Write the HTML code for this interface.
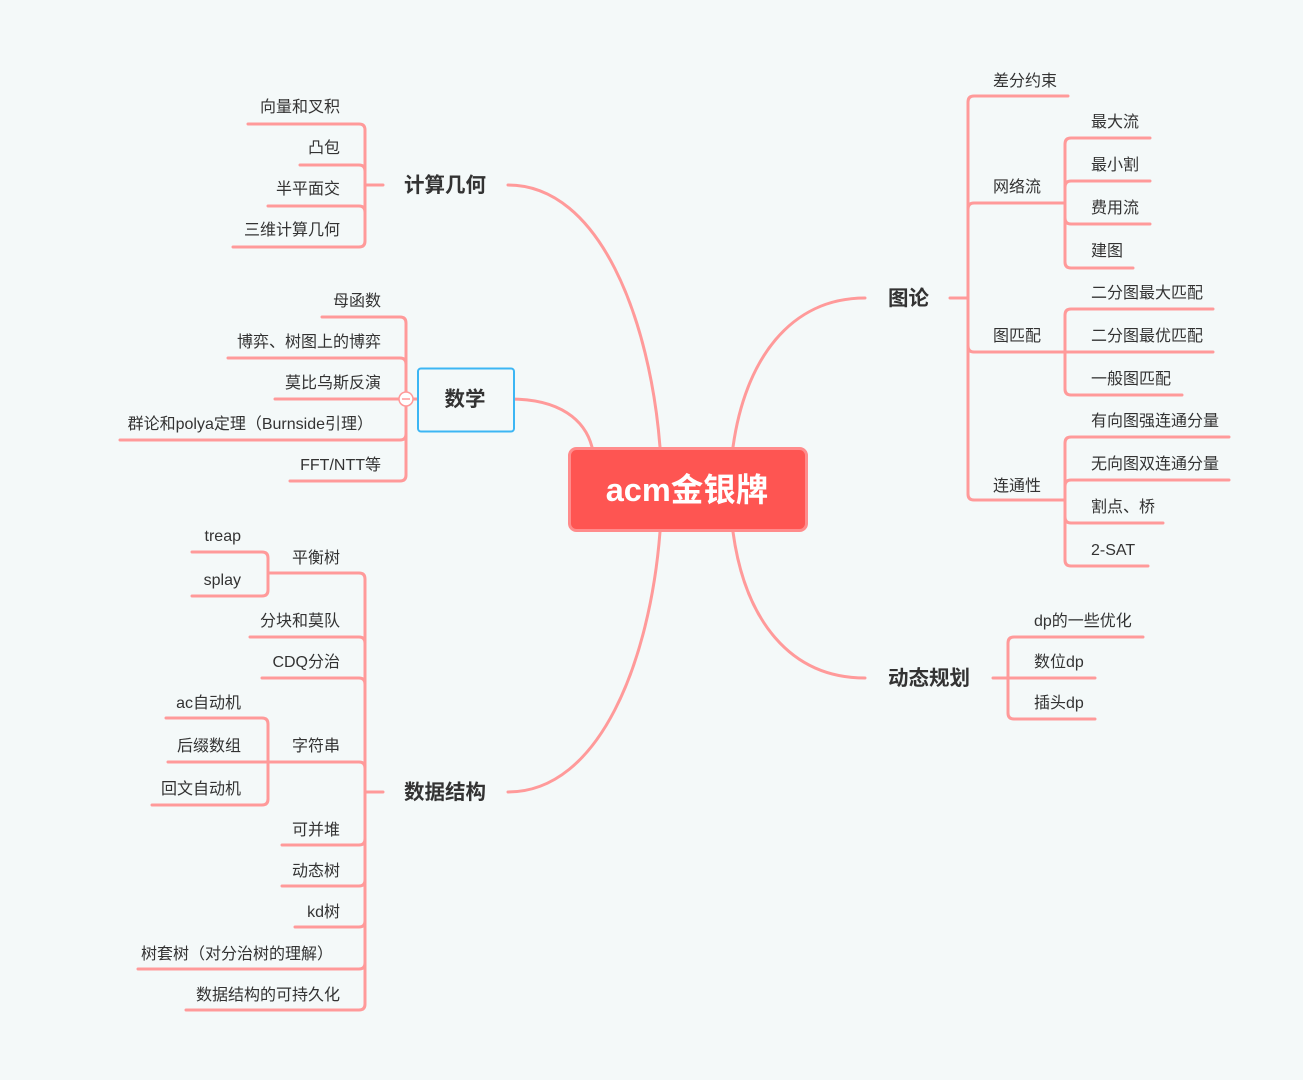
<!DOCTYPE html>
<html><head><meta charset="utf-8"><style>
html,body{margin:0;padding:0;background:#f4f9f9;}
svg{display:block;}
text{font-family:"Liberation Sans","Noto Sans CJK SC",sans-serif;fill:#333;font-size:16px;}
.b{font-weight:bold;font-size:20.5px;fill:#333;}
</style></head><body>
<svg width="1303" height="1080" viewBox="0 0 1303 1080" xmlns="http://www.w3.org/2000/svg">
<rect width="1303" height="1080" fill="#f4f9f9"/>
<g fill="none" stroke="#ff9a9a" stroke-width="3" stroke-linecap="round">
<path d="M508,185 C600,185 650,320 660,447"/>
<path d="M510,399 C560,399 585,420 592,447"/>
<path d="M508,792 C600,792 650,660 660,532"/>
<path d="M865,298 C790,298 745,360 733,447"/>
<path d="M865,678 C790,678 745,620 733,532"/>

<path d="M248,124 H359 Q365,124 365,130 V241 Q365,247 359,247 H233"/>
<path d="M300,165 H359 Q365,165 365,171"/>
<path d="M268,206 H359 Q365,206 365,212"/>
<line x1="365" y1="185" x2="383" y2="185"/>

<path d="M322,317 H400 Q406,317 406,323 V475 Q406,481 400,481 H290"/>
<path d="M228,358 H400 Q406,358 406,364"/>
<line x1="275" y1="399" x2="417" y2="399"/>
<path d="M120,440 H400 Q406,440 406,434"/>

<path d="M268,573 H359 Q365,573 365,579 V1004 Q365,1010 359,1010 H186"/>
<path d="M192,552 H262 Q268,552 268,558 V590 Q268,596 262,596 H192"/>
<path d="M250,637 H359 Q365,637 365,643"/>
<path d="M262,678 H359 Q365,678 365,684"/>
<path d="M166,718 H262 Q268,718 268,724 V799 Q268,805 262,805 H152"/>
<path d="M168,762 H359 Q365,762 365,768"/>
<path d="M282,845 H359 Q365,845 365,839"/>
<path d="M282,886 H359 Q365,886 365,880"/>
<path d="M295,927 H359 Q365,927 365,921"/>
<path d="M138,969 H359 Q365,969 365,963"/>
<line x1="365" y1="792" x2="383" y2="792"/>

<path d="M1068,96 H974 Q968,96 968,102 V494 Q968,500 974,500 H1065"/>
<line x1="950" y1="298" x2="968" y2="298"/>
<path d="M968,209 Q968,203 974,203 H1065"/>
<path d="M1150,138 H1071 Q1065,138 1065,144 V262 Q1065,268 1071,268 H1133"/>
<path d="M1150,181 H1071 Q1065,181 1065,187"/>
<path d="M1150,224 H1071 Q1065,224 1065,218"/>
<path d="M968,346 Q968,352 974,352 H1065"/>
<path d="M1213,309 H1071 Q1065,309 1065,315 V389 Q1065,395 1071,395 H1182"/>
<line x1="1065" y1="352" x2="1213" y2="352"/>
<path d="M1229,437 H1071 Q1065,437 1065,443 V560 Q1065,566 1071,566 H1148"/>
<path d="M1229,480 H1071 Q1065,480 1065,486"/>
<path d="M1163,523 H1071 Q1065,523 1065,517"/>

<path d="M1143,637 H1014 Q1008,637 1008,643 V713 Q1008,719 1014,719 H1095"/>
<line x1="993" y1="678" x2="1095" y2="678"/>
</g>

<circle cx="406" cy="399" r="7" fill="#fff" stroke="#ff9a9a" stroke-width="1.5"/>
<line x1="402" y1="399" x2="410" y2="399" stroke="#ff9a9a" stroke-width="1.5"/>

<rect x="569.5" y="448.5" width="237" height="82" rx="7" fill="#fe5552" stroke="#ff8c8c" stroke-width="3"/>
<text x="687" y="501" text-anchor="middle" style="font-size:32.5px;font-weight:bold;fill:#fff">acm金银牌</text>

<rect x="418" y="368.5" width="96" height="63" rx="3" fill="#f4f9f9" stroke="#3cb6f4" stroke-width="2"/>

<text class="b" x="404" y="192">计算几何</text>
<text class="b" x="465" y="406" text-anchor="middle">数学</text>
<text class="b" x="404" y="799">数据结构</text>
<text class="b" x="888" y="305">图论</text>
<text class="b" x="888" y="685">动态规划</text>

<g text-anchor="end">
<text x="340" y="112">向量和叉积</text>
<text x="340" y="153">凸包</text>
<text x="340" y="194">半平面交</text>
<text x="340" y="235">三维计算几何</text>

<text x="381" y="306">母函数</text>
<text x="381" y="347">博弈、树图上的博弈</text>
<text x="381" y="388">莫比乌斯反演</text>
<text x="373" y="429">群论和polya定理（Burnside引理）</text>
<text x="381" y="470">FFT/NTT等</text>

<text x="241" y="541">treap</text>
<text x="241" y="585">splay</text>
<text x="340" y="563">平衡树</text>
<text x="340" y="626">分块和莫队</text>
<text x="340" y="667">CDQ分治</text>
<text x="241" y="708">ac自动机</text>
<text x="241" y="751">后缀数组</text>
<text x="241" y="794">回文自动机</text>
<text x="340" y="751">字符串</text>
<text x="340" y="835">可并堆</text>
<text x="340" y="876">动态树</text>
<text x="340" y="917">kd树</text>
<text x="333" y="959">树套树（对分治树的理解）</text>
<text x="340" y="1000">数据结构的可持久化</text>
</g>

<text x="993" y="86">差分约束</text>
<text x="993" y="192">网络流</text>
<text x="1091" y="127">最大流</text>
<text x="1091" y="170">最小割</text>
<text x="1091" y="213">费用流</text>
<text x="1091" y="256">建图</text>
<text x="993" y="341">图匹配</text>
<text x="1091" y="298">二分图最大匹配</text>
<text x="1091" y="341">二分图最优匹配</text>
<text x="1091" y="384">一般图匹配</text>
<text x="993" y="491">连通性</text>
<text x="1091" y="426">有向图强连通分量</text>
<text x="1091" y="469">无向图双连通分量</text>
<text x="1091" y="512">割点、桥</text>
<text x="1091" y="555">2-SAT</text>

<text x="1034" y="626">dp的一些优化</text>
<text x="1034" y="667">数位dp</text>
<text x="1034" y="708">插头dp</text>
</svg>
</body></html>
